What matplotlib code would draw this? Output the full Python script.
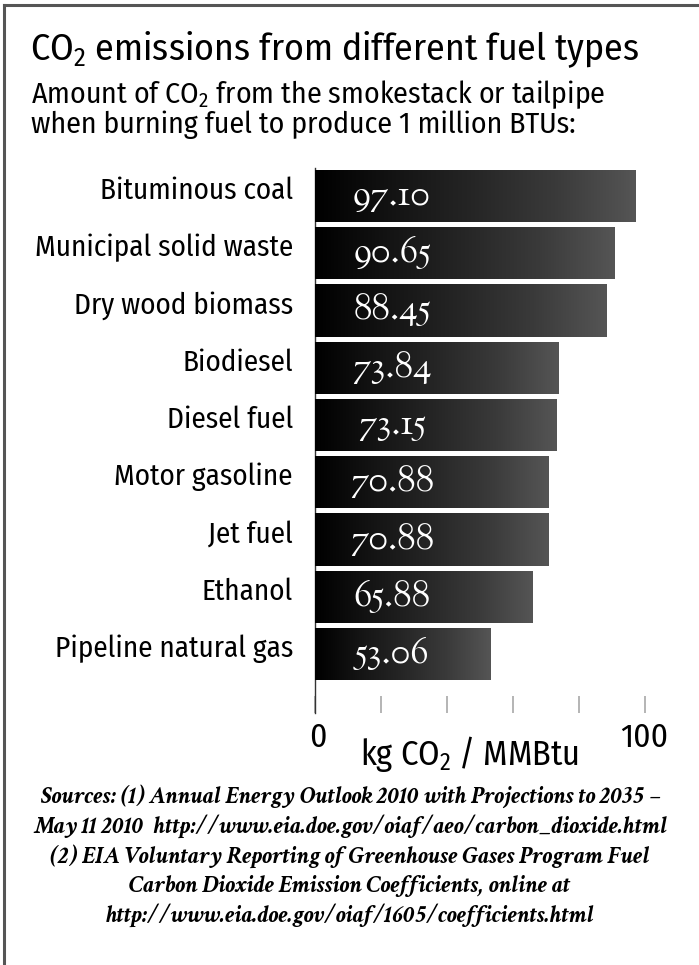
import matplotlib
matplotlib.use("Agg")
import matplotlib.pyplot as plt
import numpy as np
from matplotlib.lines import Line2D
from matplotlib import font_manager as fm

categories = ["Bituminous coal", "Municipal solid waste", "Dry wood biomass",
              "Biodiesel", "Diesel fuel", "Motor gasoline", "Jet fuel",
              "Ethanol", "Pipeline natural gas"]
values = [97.10, 90.65, 88.45, 73.84, 73.15, 70.88, 70.88, 65.88, 53.06]
value_labels = ["97.10", "90.65", "88.45", "73.84", "73.15", "70.88", "70.88", "65.88", "53.06"]
xticks = [0, 20, 40, 60, 80, 100]
xtick_labels = {0: "0", 100: "100"}

names = {f.name for f in fm.fontManager.ttflist}
sans_main = "Fira Sans Condensed Medium" if "Fira Sans Condensed Medium" in names else "Fira Sans Condensed"
SANS = [sans_main, "DejaVu Sans"]
NUMS = ["Sorts Mill Goudy", "Liberation Serif"]
SRC = ["Crimson Text", "Liberation Serif"]

plt.rcParams['mathtext.fontset'] = 'custom'
plt.rcParams['mathtext.rm'] = sans_main
plt.rcParams['mathtext.it'] = sans_main
plt.rcParams['mathtext.bf'] = sans_main

W, H = 699, 965
fig = plt.figure(figsize=(W/100, H/100), dpi=100)
renderer = fig.canvas.get_renderer()

def fx(px):
    return px / W
def fy(py):
    return 1 - py / H

def fit(t, width):
    t.set_fontsize(10)
    w = t.get_window_extent(renderer).width
    t.set_fontsize(10 * width / w)
    return t

# border (top & left)
fig.add_artist(Line2D([fx(4), fx(4)], [fy(5), 0], color="#555555", lw=2.2))
fig.add_artist(Line2D([fx(4), 1], [fy(5), fy(5)], color="#555555", lw=2.2))

# axes: x=0 at px 314.5, 3.3 px/unit
x0px, xmax = 314.5, 105
ax_left, ax_right = x0px, x0px + 3.3 * xmax
ax_top, ax_bot = 168, 713
pitch = 57.25
yc0 = 196
ax = fig.add_axes([fx(ax_left), fy(ax_bot), fx(ax_right - ax_left), (ax_bot - ax_top) / H])
ax.set_xlim(0, xmax)
ax.set_ylim((ax_bot - yc0) / pitch, (ax_top - yc0) / pitch)
ax.patch.set_alpha(0)

ypos = np.arange(len(categories))
bars = ax.barh(ypos, values, height=0.91, color="#111111", edgecolor="none", zorder=2)
grad = np.linspace(0, 1, 256).reshape(1, -1)
cmap = matplotlib.colors.LinearSegmentedColormap.from_list(
    "g", ["#000000", "#141414", "#262626", "#3a3a3a", "#555555"])
for b in bars:
    x, y, w, h = b.get_x(), b.get_y(), b.get_width(), b.get_height()
    im = ax.imshow(grad, extent=[x, x + w, y + h, y], aspect="auto", cmap=cmap,
                   zorder=3, interpolation="bicubic")
    im.set_clip_path(b)

vt = []
for i, lab in enumerate(value_labels):
    t = ax.text(23.5, i + 9 / pitch, lab, color="white", family=NUMS,
                ha="center", va="baseline", zorder=5)
    vt.append(t)
fit(vt[1], 77)
for t in vt:
    t.set_fontsize(vt[1].get_fontsize())

for s in ["top", "right", "bottom"]:
    ax.spines[s].set_visible(False)
ax.spines["left"].set_color("#333333")
ax.spines["left"].set_linewidth(1.0)
ax.set_yticks([])
ax.set_xticks(xticks)
ax.tick_params(axis="x", direction="in", length=12, width=1.1, color="#a0a0a0",
               labelbottom=False)

# category labels
cat_texts = []
for i, c in enumerate(categories):
    t = fig.text(fx(293), fy(yc0 + pitch * i + 3), c, ha="right", va="baseline",
                 family=SANS, color="black")
    cat_texts.append(t)
fit(cat_texts[1], 258)
for t in cat_texts:
    t.set_fontsize(cat_texts[1].get_fontsize())

# x labels
t1 = fig.text(fx(644), fy(747), xtick_labels[100], ha="center", va="baseline", family=SANS)
fit(t1, 48)
t0 = fig.text(fx(318), fy(747), xtick_labels[0], ha="center", va="baseline", family=SANS,
              fontsize=t1.get_fontsize())
tl = fig.text(fx(469), fy(765), "kg CO$_2$ / MMBtu", ha="center", va="baseline",
              family=SANS)
fit(tl, 222)

# title & subtitle
tt = fig.text(fx(30), fy(60), "CO$_2$ emissions from different fuel types", ha="left",
              va="baseline", family=SANS)
fit(tt, 613)
s1 = fig.text(fx(31), fy(103), "Amount of CO$_2$ from the smokestack or tailpipe", ha="left",
              va="baseline", family=SANS)
fit(s1, 577)
s2 = fig.text(fx(31), fy(133), "when burning fuel to produce 1 million BTUs:", ha="left",
              va="baseline", family=SANS, fontsize=s1.get_fontsize())

sources = ["Sources: (1) Annual Energy Outlook 2010 with Projections to 2035 \u2013",
           "May 11 2010  http://www.eia.doe.gov/oiaf/aeo/carbon_dioxide.html",
           "(2) EIA Voluntary Reporting of Greenhouse Gases Program Fuel",
           "Carbon Dioxide Emission Coefficients, online at",
           "http://www.eia.doe.gov/oiaf/1605/coefficients.html"]
src_texts = []
for k, s in enumerate(sources):
    t = fig.text(fx(350), fy(803 + 29.7 * k), s, ha="center", va="baseline",
                 family=SRC, style="italic", weight="bold")
    src_texts.append(t)
fit(src_texts[1], 635)
for t in src_texts:
    t.set_fontsize(src_texts[1].get_fontsize())

fig.savefig("out.png", dpi=100)
